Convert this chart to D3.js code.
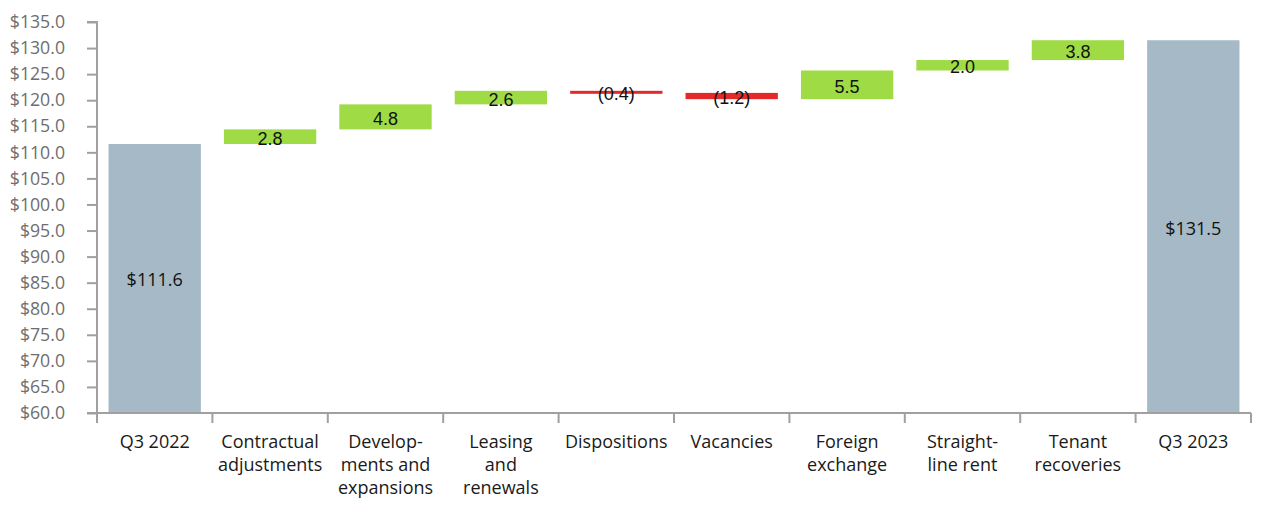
<!DOCTYPE html>
<html>
<head>
<meta charset="utf-8">
<script src="https://cdn.jsdelivr.net/npm/d3@7"></script>
<style>
  body { margin: 0; background: #fff; }
  svg text { font-family: "Open Sans", "Noto Sans", sans-serif; }
</style>
</head>
<body>
<div id="chart"></div>
<script>
// waterfall: Q3 2022 -> Q3 2023
const categories = ["Q3 2022", "Contractual\nadjustments", "Develop-\nments and\nexpansions",
  "Leasing\nand\nrenewals", "Dispositions", "Vacancies", "Foreign\nexchange",
  "Straight-\nline rent", "Tenant\nrecoveries", "Q3 2023"];
const startValue = 111.6;
const endValue = 131.5;
const changes = [2.8, 4.8, 2.6, -0.4, -1.2, 5.5, 2.0, 3.8];
const yTicks = [60, 65, 70, 75, 80, 85, 90, 95, 100, 105, 110, 115, 120, 125, 130, 135];

const margin = { top: 22, right: 19, bottom: 101, left: 97 },
      width = 1270 - margin.left - margin.right,
      height = 514 - margin.top - margin.bottom;

const svg = d3.select("#chart")
  .append("svg")
    .attr("width", width + margin.left + margin.right)
    .attr("height", height + margin.top + margin.bottom)
  .append("g")
    .attr("transform", `translate(${margin.left},${margin.top})`);

// build bars
const bars = [];
bars.push({ cat: categories[0], y0: 60, y1: startValue, type: "total", label: "$" + startValue.toFixed(1) });
let run = startValue;
changes.forEach((c, i) => {
  const prev = run;
  run = run + c;
  bars.push({
    cat: categories[i + 1],
    y0: Math.min(prev, run), y1: Math.max(prev, run),
    type: c >= 0 ? "up" : "down",
    label: c >= 0 ? c.toFixed(1) : `(${Math.abs(c).toFixed(1)})`
  });
});
bars.push({ cat: categories[9], y0: 60, y1: endValue, type: "total", label: "$" + endValue.toFixed(1) });

const x = d3.scaleBand()
  .domain(categories)
  .range([0, width])
  .paddingInner(0.2)
  .paddingOuter(0.1);

const y = d3.scaleLinear()
  .domain([60, 135])
  .range([height, 0]);

const color = { total: "#a5b9c6", up: "#9edb44", down: "#e3292a" };

// y axis
const yAxis = svg.append("g")
  .call(d3.axisLeft(y).tickValues(yTicks).tickSize(10).tickPadding(22)
    .tickFormat(d => "$" + d.toFixed(1)));
yAxis.select(".domain").attr("stroke", "#a0a0a0").attr("stroke-width", 2).attr("d", `M-10,0H0V${height}`);
yAxis.selectAll(".tick line").attr("stroke", "#a0a0a0").attr("stroke-width", 2);
yAxis.selectAll(".tick text").attr("fill", "#6e6e6e").style("font-size", "17.7px")
  .style("font-family", "'Open Sans', sans-serif");

// bars
svg.selectAll(".bar")
  .data(bars)
  .join("rect")
    .attr("class", "bar")
    .attr("x", d => x(d.cat))
    .attr("width", x.bandwidth())
    .attr("y", d => y(d.y1))
    .attr("height", d => Math.max(3, y(d.y0) - y(d.y1)))
    .attr("fill", d => color[d.type]);

// x axis line + category boundary ticks
const step = x.step();
const bounds = categories.map(c => x(c) - step * x.paddingInner() / 2);
bounds.push(width);
const xAxis = svg.append("g").attr("transform", `translate(0,${height})`);
xAxis.append("line")
  .attr("x1", -10).attr("x2", width)
  .attr("stroke", "#a0a0a0").attr("stroke-width", 2);
xAxis.selectAll(".xtick")
  .data(bounds)
  .join("line")
    .attr("x1", d => d).attr("x2", d => d)
    .attr("y1", 0).attr("y2", 10)
    .attr("stroke", "#a0a0a0").attr("stroke-width", 2);

// category labels
const catLabels = xAxis.selectAll(".cat")
  .data(categories)
  .join("text")
    .attr("class", "cat")
    .attr("text-anchor", "middle")
    .attr("fill", "#1a1a1a")
    .style("font-size", "18px")
    .attr("transform", d => `translate(${x(d) + x.bandwidth() / 2},35)`);
catLabels.selectAll("tspan")
  .data(d => d.split("\n"))
  .join("tspan")
    .attr("x", 0)
    .attr("dy", (d, i) => i === 0 ? 0 : 23)
    .text(d => d);

// value labels
svg.selectAll(".val")
  .data(bars)
  .join("text")
    .attr("class", "val")
    .attr("text-anchor", "middle")
    .attr("x", d => x(d.cat) + x.bandwidth() / 2)
    .attr("y", d => (y(d.y0) + y(d.y1)) / 2 + 8)
    .attr("fill", "#111")
    .style("font-size", "18px")
    .style("font-family", d => d.type === "total" ? "'Open Sans', sans-serif" : "'Liberation Sans', Arial, sans-serif")
    .text(d => d.label);
</script>
</body>
</html>
